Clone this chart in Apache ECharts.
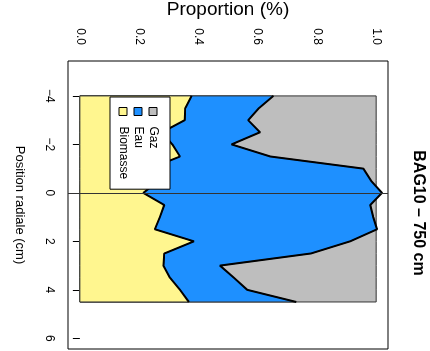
<!DOCTYPE html>
<html>
<head>
<meta charset="utf-8">
<script src="https://cdn.jsdelivr.net/npm/echarts@6/dist/echarts.min.js"></script>
<style>
  html, body { margin: 0; padding: 0; background: #fff; overflow: hidden; }
  /* the figure is drawn upright (R style) then turned a quarter clockwise */
  #main { position: absolute; left: 0; top: 0; width: 351px; height: 430px;
          transform-origin: 0 0; transform: translateX(430px) rotate(90deg); }
</style>
</head>
<body>
<div id="main"></div>
<script>
// positions radiales (cm)
const positions = [-4, -3.5, -3, -2.5, -2, -1.5, -1, -0.5, 0, 0.5, 1, 1.5, 2, 2.5, 3, 3.5, 4, 4.5];
// proportions
const biomasse = [0.377, 0.356, 0.354, 0.277, 0.312, 0.338, 0.236, 0.266, 0.214, 0.285, 0.270, 0.253, 0.385, 0.285, 0.282, 0.304, 0.338, 0.368];
const eau      = [0.276, 0.249, 0.214, 0.331, 0.200, 0.305, 0.721, 0.717, 0.806, 0.695, 0.720, 0.750, 0.527, 0.495, 0.191, 0.216, 0.227, 0.362];
const gaz      = [0.347, 0.395, 0.432, 0.392, 0.488, 0.357, 0.043, 0.017, -0.020, 0.020, 0.010, -0.003, 0.088, 0.220, 0.527, 0.480, 0.435, 0.270];
const posTicks = [-4, -2, 0, 2, 4, 6];
const propTicks = [0, 0.2, 0.4, 0.6, 0.8, 1];
const titre = 'BAG10 \u2013 750 cm';

const FONT = '"Liberation Sans", Arial, sans-serif';

// cumul pour l'empilement
const cumB = biomasse.slice();
const cumE = eau.map((v, i) => v + biomasse[i]);
const cumG = gaz.map((v, i) => v + cumE[i]);

function areaSerie(name, color, upper) {
  return {
    type: 'custom',
    name: name,
    coordinateSystem: 'cartesian2d',
    itemStyle: { color: color, borderColor: '#000', borderWidth: 1 },
    data: positions.map((p, i) => [p, upper[i]]),
    renderItem: function (params, api) {
      if (params.dataIndex !== 0) return null;
      const pts = [];
      for (let i = 0; i < positions.length; i++) pts.push(api.coord([positions[i], upper[i]]));
      for (let i = positions.length - 1; i >= 0; i--) pts.push(api.coord([positions[i], 0]));
      return {
        type: 'polygon',
        shape: { points: pts },
        style: { fill: color, stroke: '#333', lineWidth: 1 }
      };
    }
  };
}

function boundary(upper, extra) {
  const s = {
    type: 'line',
    z: 3,
    showSymbol: false,
    silent: true,
    data: positions.map((p, i) => [p, upper[i]]),
    lineStyle: { color: '#000', width: 2 }
  };
  return Object.assign(s, extra || {});
}

const legendItem = (name, color) => ({
  name: name,
  icon: 'rect',
  itemStyle: { color: color, borderColor: '#000', borderWidth: 1 }
});

const chart = echarts.init(document.getElementById('main'), null, { renderer: 'canvas' });
chart.setOption({
  animation: false,
  textStyle: { fontFamily: FONT, color: '#000' },
  title: {
    text: titre,
    left: 213, top: 4, padding: 0, textAlign: 'center',
    textStyle: { fontSize: 16, fontWeight: 'bold', color: '#000', fontFamily: FONT }
  },
  legend: {
    orient: 'vertical',
    left: 97, top: 260,
    icon: 'rect',
    data: [legendItem('Gaz', '#BEBEBE'), legendItem('Eau', '#1E90FF'), legendItem('Biomasse', '#FFF68F')],
    itemWidth: 8, itemHeight: 8, itemGap: 3,
    padding: [11, 10, 7, 10],
    backgroundColor: '#fff', borderColor: '#000', borderWidth: 1, borderRadius: 0,
    selectedMode: false,
    textStyle: { fontSize: 12, color: '#000', fontFamily: FONT, padding: [0, 0, 0, 6] }
  },
  grid: {
    left: 61, top: 42, width: 288, height: 320,
    containLabel: false, outerBoundsMode: 'none',
    show: true, borderColor: '#000', borderWidth: 1, backgroundColor: 'transparent'
  },
  xAxis: {
    type: 'value', min: -5.44, max: 6.44,
    axisLine: { show: false },
    splitLine: { show: false },
    axisTick: { customValues: posTicks, length: 7, lineStyle: { color: '#000' } },
    axisLabel: {
      customValues: posTicks, margin: 13, fontSize: 12, color: '#000', fontFamily: FONT,
      formatter: v => (v < 0 ? '\u2212' + (-v) : String(v))
    },
    name: 'Position radiale (cm)', nameLocation: 'middle', nameGap: 42, nameMoveOverlap: false,
    nameTextStyle: { fontSize: 13, color: '#000', fontFamily: FONT }
  },
  yAxis: {
    type: 'value', min: -0.04, max: 1.04,
    axisLine: { show: false },
    splitLine: { show: false },
    axisTick: { customValues: propTicks, length: 8, lineStyle: { color: '#000' } },
    axisLabel: {
      customValues: propTicks, margin: 16, fontSize: 12, color: '#000', fontFamily: FONT,
      formatter: v => v.toFixed(1)
    },
    name: 'Proportion (%)', nameLocation: 'middle', nameRotate: 90, nameGap: 42, nameMoveOverlap: false,
    nameTextStyle: { fontSize: 19, color: '#000', fontFamily: FONT }
  },
  series: [
    areaSerie('Gaz', '#BEBEBE', cumG),
    areaSerie('Eau', '#1E90FF', cumE),
    areaSerie('Biomasse', '#FFF68F', cumB),
    boundary(cumE),
    boundary(cumB, {
      markLine: {
        silent: true, symbol: 'none', label: { show: false },
        lineStyle: { color: '#333', width: 1, type: 'solid' },
        data: [{ xAxis: 0 }]
      }
    })
  ]
});
</script>
</body>
</html>
